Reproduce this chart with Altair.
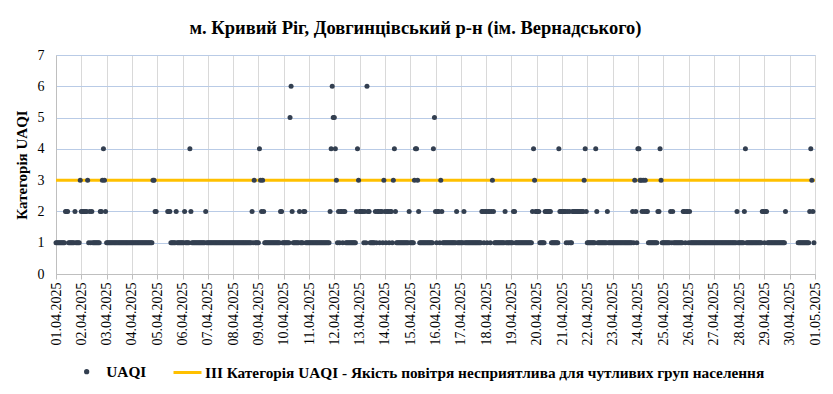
import json
import altair as alt
import pandas as pd

TITLE = "м. Кривий Ріг, Довгинцівський р-н (ім. Вернадського)"
Y_TITLE = "Категорія UAQI"
SERIES_NAME = "UAQI"
THRESHOLD_NAME = "III Категорія UAQI - Якість повітря несприятлива для чутливих груп населення"
THRESHOLD_VALUE = 3

DATE_LABELS = [
    "01.04.2025", "02.04.2025", "03.04.2025", "04.04.2025", "05.04.2025",
    "06.04.2025", "07.04.2025", "08.04.2025", "09.04.2025", "10.04.2025",
    "11.04.2025", "12.04.2025", "13.04.2025", "14.04.2025", "15.04.2025",
    "16.04.2025", "17.04.2025", "18.04.2025", "19.04.2025", "20.04.2025",
    "21.04.2025", "22.04.2025", "23.04.2025", "24.04.2025", "25.04.2025",
    "26.04.2025", "27.04.2025", "28.04.2025", "29.04.2025", "30.04.2025",
    "01.05.2025",
]
Y_TICKS = [0, 1, 2, 3, 4, 5, 6, 7]

# Hourly UAQI category, one string per day (hours 00..23); "x" = no data
HOURLY_BY_DAY = [
    "111111111222111111211113",  # 01.04
    "222222312121111111223432",  # 02.04
    "111111111111111111111111",  # 03.04
    "111111111111111111113322",  # 04.04
    "xxxxxxxxxx22211111211111",  # 05.04
    "112111142111111111111121",  # 06.04
    "111111111111111111111111",  # 07.04
    "111111111111111111213111",  # 08.04
    "143232111111111111111221",  # 09.04
    "111111562111111211122111",  # 10.04
    "111111111111111111112465",  # 11.04
    "543121221221111111111243",  # 12.04
    "222212162211111212212213",  # 13.04
    "212212213421111111111112",  # 14.04
    "111134432111111111111145",  # 15.04
    "212213211111111111112111",  # 16.04
    "111211111111111111112212",  # 17.04
    "212212321111111111211111",  # 18.04
    "112211111111111111112432",  # 19.04
    "222111112222221111111422",  # 20.04
    "222212121122222222222342",  # 21.04
    "111111114211111111121111",  # 22.04
    "111111111111111111121321",  # 23.04
    "443323232211111111122431",  # 24.04
    "111111121211111111122122",  # 25.04
    "121111111111111111111111",  # 26.04
    "111111111111111111111121",  # 27.04
    "111112411111111111111122",  # 28.04
    "122111111111111111112xxx",  # 29.04
    "xxxxxxxx1111111111124321",  # 30.04
]

rows = []
for d, day in enumerate(HOURLY_BY_DAY):
    for hh, ch in enumerate(day):
        if ch != "x":
            rows.append({"hour": d * 24 + hh, "value": int(ch), "series": SERIES_NAME})
df = pd.DataFrame(rows)
thr = pd.DataFrame({"level": [THRESHOLD_VALUE], "name": [THRESHOLD_NAME]})

FONT = "Liberation Serif"
label_expr = json.dumps(DATE_LABELS, ensure_ascii=False) + "[round(datum.value / 24)]"

x_axis = alt.Axis(
    values=list(range(0, 24 * (len(DATE_LABELS) - 1) + 1, 24)),
    labelExpr=label_expr,
    labelAngle=270,
    labelFont=FONT,
    labelFontSize=14,
    labelColor="#000000",
    labelPadding=3,
    labelFlush=False,
    labelOverlap=False,
    tickSize=5,
    tickColor="#bfbfbf",
    domainColor="#bfbfbf",
    grid=True,
    gridColor="#d9d9d9",
    title=None,
)
y_axis = alt.Axis(
    values=Y_TICKS,
    grid=True,
    gridColor="#b9cbe6",
    domainColor="#bfbfbf",
    ticks=False,
    labelFont=FONT,
    labelFontSize=14,
    labelColor="#000000",
    labelPadding=12,
    title=Y_TITLE,
    titleFont=FONT,
    titleFontSize=15,
    titleFontWeight="bold",
    titleColor="#000000",
    titlePadding=8,
)
x_enc = alt.X("hour:Q", scale=alt.Scale(domain=[0, 720], nice=False, zero=False), axis=x_axis)
y_scale = alt.Scale(domain=[0, 7], nice=False)

rule = alt.Chart(thr).mark_rule(strokeWidth=3).encode(
    y=alt.Y("level:Q", scale=y_scale, axis=y_axis),
    color=alt.Color(
        "name:N",
        scale=alt.Scale(domain=[THRESHOLD_NAME], range=["#ffc000"]),
        legend=alt.Legend(
            orient="none", legendX=116, legendY=302, title=None,
            symbolType="stroke", symbolSize=784, symbolStrokeWidth=3,
            labelOffset=2, labelFont=FONT, labelFontSize=15.3,
            labelFontWeight="bold", labelColor="#000000", padding=0,
            labelLimit=800,
        ),
    ),
)

points = alt.Chart(df).mark_circle(size=25, opacity=1).encode(
    x=x_enc,
    y=alt.Y("value:Q", scale=y_scale, axis=y_axis),
    fill=alt.Fill(
        "series:N",
        scale=alt.Scale(domain=[SERIES_NAME], range=["#333f50"]),
        legend=alt.Legend(
            orient="none", legendX=23, legendY=309, title=None,
            symbolType="circle", symbolSize=28, symbolStrokeWidth=0,
            labelOffset=12, labelFont=FONT, labelFontSize=15.3,
            labelFontWeight="bold", labelColor="#000000", padding=0,
        ),
    ),
)

chart = alt.layer(rule, points).properties(
    width=759,
    height=219,
    padding={"left": 48, "top": 47, "right": 10, "bottom": 108},
    autosize=alt.AutoSizeParams(type="none"),
    title=alt.TitleParams(
        text=TITLE, font=FONT, fontSize=18.5, fontWeight="bold", color="#000000",
        anchor="middle", baseline="alphabetic", offset=22, dx=-20, dy=26,
    ),
).configure_view(strokeWidth=0).configure(background="#ffffff")

chart.save("out.html", embed_options={"renderer": "svg", "actions": False})
